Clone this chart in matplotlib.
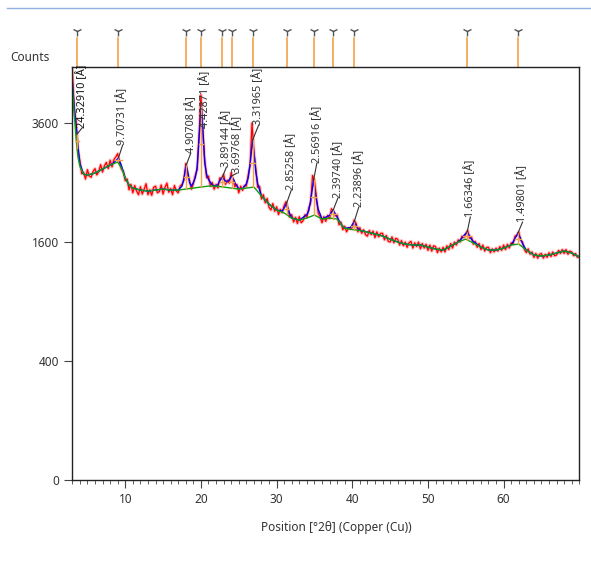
import numpy as np
import matplotlib
matplotlib.use('Agg')
import matplotlib.pyplot as plt
from matplotlib.ticker import FixedLocator, MultipleLocator

plt.rcParams['font.family'] = ['Noto Sans', 'DejaVu Sans']

# observed counts, 3.00 to 70.00 deg 2theta in 0.25 deg steps
obs_start = 3.0
obs_step = 0.25
obs_counts = [
    4750, 3900, 3640, 3080,  2880, 2650, 2670, 2560,  2720, 2610, 2590, 2690,
    2740, 2630, 2690, 2810,  2680, 2790, 2850, 2740,  2890, 2770, 2900, 2950,
    3010, 2840, 2730, 2690,  2530, 2560, 2380, 2470,  2330, 2450, 2360, 2300,
    2430, 2310, 2390, 2480,  2300, 2380, 2290, 2420,  2440, 2330, 2350, 2460,
    2310, 2420, 2490, 2340,  2400, 2300, 2450, 2360,  2330, 2440, 2470, 2540,
    2830, 2640, 2530, 2390,  2480, 2620, 2720, 3350,  4190, 3420, 2900, 2580,
    2610, 2440, 2500, 2390,  2470, 2410, 2580, 2560,  2640, 2470, 2540, 2490,
    2670, 2530, 2430, 2470,  2330, 2440, 2370, 2450,  2440, 2630, 2800, 3600,
    3060, 2740, 2420, 2440,  2230, 2300, 2170, 2240,  2100, 2060, 2160, 2040,
    2110, 1990, 2070, 2020,  2130, 2190, 2060, 1950,  1990, 1880, 1950, 1860,
    1960, 1870, 1900, 1990,  1950, 2090, 2170, 2620,  2540, 2270, 2010, 1960,
    1870, 1960, 1890, 1980,  1930, 2080, 2040, 1970,  1990, 1840, 1880, 1770,
    1820, 1740, 1800, 1780,  1800, 1910, 1860, 1740,  1800, 1720, 1770, 1700,
    1680, 1760, 1700, 1750,  1660, 1740, 1670, 1720,  1720, 1630, 1690, 1610,
    1600, 1670, 1590, 1650,  1640, 1560, 1620, 1550,  1600, 1530, 1590, 1610,
    1520, 1590, 1540, 1600,  1510, 1580, 1520, 1570,  1490, 1560, 1480, 1550,
    1540, 1460, 1520, 1470,  1530, 1470, 1550, 1500,  1580, 1520, 1600, 1560,
    1630, 1600, 1680, 1660,  1710, 1760, 1650, 1670,  1570, 1610, 1530, 1580,
    1500, 1560, 1480, 1530,  1530, 1460, 1510, 1470,  1520, 1480, 1540, 1490,
    1560, 1500, 1570, 1520,  1590, 1570, 1680, 1690,  1740, 1620, 1600, 1500,
    1460, 1510, 1440, 1470,  1400, 1450, 1390, 1440,  1450, 1390, 1440, 1400,
    1460, 1410, 1470, 1420,  1430, 1490, 1450, 1500,  1450, 1500, 1440, 1480,
    1470, 1420, 1450, 1400,  1420,
]

# calculated profile (blue)
calc_pos = [3.0, 3.25, 3.5, 3.63, 3.75, 4.0, 4.5, 5, 6, 7, 8, 8.5, 9.1, 9.5, 10, 10.5, 11,
            12, 13, 14, 15, 16, 17, 17.5, 17.75, 18.06, 18.3, 18.5, 18.75, 19, 19.25,
            19.5, 19.75, 20.03, 20.25, 20.5, 20.75, 21, 21.5, 22, 22.25, 22.5, 22.83,
            23.2, 23.5, 23.75, 24.05, 24.3, 24.6, 25, 25.5, 26, 26.25, 26.5, 26.83, 27.0,
            27.25, 27.5, 28, 29, 30, 30.75, 31.0, 31.33, 31.5, 31.75, 32, 33, 34, 34.25,
            34.5, 34.89, 35.25, 35.5, 35.75, 36, 37, 37.25, 37.48, 37.75, 38, 38.5, 39,
            39.75, 40.0, 40.25, 40.5, 40.75, 41, 42, 43, 44, 45, 46, 47, 48, 49, 50, 51,
            52, 53, 54, 54.5, 54.75, 55.18, 55.5, 55.75, 56, 57, 58, 59, 60, 61, 61.5,
            61.89, 62.25, 62.5, 62.75, 63, 64, 65, 66, 67, 68, 69, 70]
calc_counts = [4500, 3950, 3550, 3380, 3150, 2830, 2645, 2627, 2662, 2731, 2802, 2845, 2930,
               2790, 2576, 2458, 2408, 2375, 2359, 2375, 2392, 2375, 2375, 2440, 2570, 2802,
               2660, 2500, 2440, 2500, 2580, 2760, 3290, 3972, 3500, 2850, 2640, 2550, 2460,
               2441, 2470, 2530, 2593, 2530, 2510, 2550, 2610, 2560, 2470, 2400, 2400, 2478,
               2580, 2830, 3265, 3050, 2690, 2480, 2280, 2151, 2059, 2045, 2090, 2167, 2090,
               2000, 1939, 1909, 1989, 2050, 2210, 2542, 2230, 2070, 2000, 1924, 1979, 2025,
               2059, 2003, 1954, 1850, 1790, 1800, 1842, 1884, 1836, 1793, 1760, 1737, 1710,
               1682, 1640, 1600, 1573, 1560, 1560, 1533, 1507, 1494, 1546, 1600, 1655, 1690,
               1737, 1684, 1640, 1607, 1533, 1494, 1494, 1520, 1560, 1647, 1723, 1648, 1579,
               1534, 1494, 1430, 1418, 1430, 1456, 1481, 1456, 1405]

# background (green)
bg_pos = [3.0, 3.25, 3.5, 3.75, 4, 4.5, 5, 6, 7, 8, 9, 9.5, 10, 10.5, 11, 12, 13, 14, 15,
          16, 17, 18, 19, 20, 21, 22, 23, 24, 25, 26, 27, 28, 29, 30, 31, 32, 33, 34, 35,
          36, 37, 38, 38.5, 39, 40, 41, 42, 43, 44, 45, 46, 47, 48, 49, 50, 51, 52, 53, 54,
          55, 56, 57, 58, 59, 60, 61, 62, 63, 64, 65, 66, 67, 68, 69, 70]
bg_counts = [4400, 3800, 3300, 2950, 2780, 2645, 2627, 2662, 2731, 2802, 2857, 2750, 2576,
             2458, 2408, 2375, 2359, 2375, 2392, 2375, 2375, 2392, 2408, 2425, 2441, 2441,
             2425, 2408, 2392, 2408, 2425, 2280, 2151, 2059, 2014, 1939, 1909, 1939, 1984,
             1924, 1939, 1924, 1850, 1790, 1772, 1760, 1737, 1710, 1682, 1640, 1600, 1573,
             1560, 1560, 1533, 1507, 1494, 1546, 1600, 1640, 1587, 1533, 1494, 1494, 1520,
             1560, 1573, 1494, 1430, 1418, 1430, 1456, 1481, 1456, 1405]

# peak list
peak_pos = [3.63, 9.10, 18.06, 20.03, 22.83, 24.05, 26.83, 31.33, 34.89, 37.48, 40.25, 55.18, 61.89]
d_spacing = ['24.32910', '9.70731', '4.90708', '4.42871', '3.89144', '3.69768', '3.31965',
             '2.85258', '2.56916', '2.39740', '2.23896', '1.66346', '1.49801']
peak_top = [3380, 2930, 2802, 3972, 2593, 2610, 3265, 2167, 2542, 2059, 1884, 1737, 1723]
peak_base = [3120, 2870, 2392, 2425, 2428, 2408, 2420, 1995, 1982, 1932, 1769, 1633, 1570]
peak_fwhm = [0.4, 0.9, 0.6, 0.5, 0.7, 0.7, 0.6, 0.7, 0.6, 0.9, 0.8, 1.0, 0.8]
label_x = [4.28, 9.65, 18.66, 20.6, 23.37, 24.77, 27.63, 31.94, 35.32, 38.1, 40.86, 55.6, 62.5]
label_y = [3500, 3170, 3020, 3500, 2767, 2662, 3560, 2375, 2838, 2246, 2105, 1954, 1880]
x_ticks = [10, 20, 30, 40, 50, 60]
y_ticks = [0, 400, 1600, 3600]

obs_pos = obs_start + obs_step * np.arange(len(obs_counts))

fig = plt.figure(figsize=(5.91, 5.62), dpi=100)
ax = fig.add_axes([0.1223, 0.1459, 0.8579, 0.7349])
ax.set_yscale('function', functions=(lambda v: np.sqrt(np.clip(v, 0, None)), lambda v: v ** 2))

ax.plot(obs_pos, obs_counts, color='#ff5050', lw=2.4, alpha=0.35)
ax.plot(obs_pos, obs_counts, color='#ff0000', lw=0.9)
ax.plot(calc_pos, calc_counts, color='#0000ff', lw=1.0)
ax.plot(bg_pos, bg_counts, color='#10a010', lw=1.0)

for i in range(len(peak_pos)):
    # peak stick and half-width bar
    ax.plot([peak_pos[i], peak_pos[i]], [peak_base[i], peak_top[i]], color='#f5a04a', lw=1.0)
    half = (peak_base[i] + peak_top[i]) / 2
    ax.plot([peak_pos[i] - peak_fwhm[i] / 2, peak_pos[i] + peak_fwhm[i] / 2], [half, half],
            color='#f5a04a', lw=1.0)
    # leader and label
    if label_y[i] > peak_top[i]:
        ax.plot([peak_pos[i], label_x[i]], [peak_top[i], label_y[i]], color='#333333', lw=0.8)
    ax.text(label_x[i], label_y[i], d_spacing[i] + ' [Å]', rotation=90, ha='center', va='bottom',
            fontsize=7.8, color='#333333' if i else '#111111',
            fontweight='bold' if i == 0 else 'normal')
    # reference markers above the plot
    ax.plot([peak_pos[i], peak_pos[i]], [1.0, 1.07], transform=ax.get_xaxis_transform(),
            color='#f7a04a', lw=1.2, clip_on=False)
    ax.plot([peak_pos[i]], [1.088], transform=ax.get_xaxis_transform(), marker='1',
            markersize=7, color='#555555', clip_on=False)

ax.set_xlim(3.0, 70.0)
ax.set_ylim(0, 4820)
ax.yaxis.set_major_locator(FixedLocator(y_ticks))
ax.yaxis.set_minor_locator(FixedLocator([]))
ax.xaxis.set_major_locator(FixedLocator(x_ticks))
ax.xaxis.set_minor_locator(MultipleLocator(1))
ax.tick_params(axis='both', which='major', labelsize=8.5, labelcolor='#333333', color='#444444',
               length=6, width=0.8)
ax.tick_params(axis='x', which='minor', length=3, width=0.6, color='#444444')
for s in ax.spines.values():
    s.set_color('#222222')
    s.set_linewidth(1.0)

ax.set_xlabel('Position [°2θ] (Copper (Cu))', fontsize=8.5, color='#333333')
ax.xaxis.set_label_coords(0.52, -0.1)

fig.text(0.017, 0.898, 'Counts', fontsize=8.5, color='#333333', va='center')
fig.add_artist(plt.Line2D([0.012, 1.0], [0.985, 0.985], color='#8fb0e0', lw=1.0))

fig.savefig('out.png', dpi=100)
